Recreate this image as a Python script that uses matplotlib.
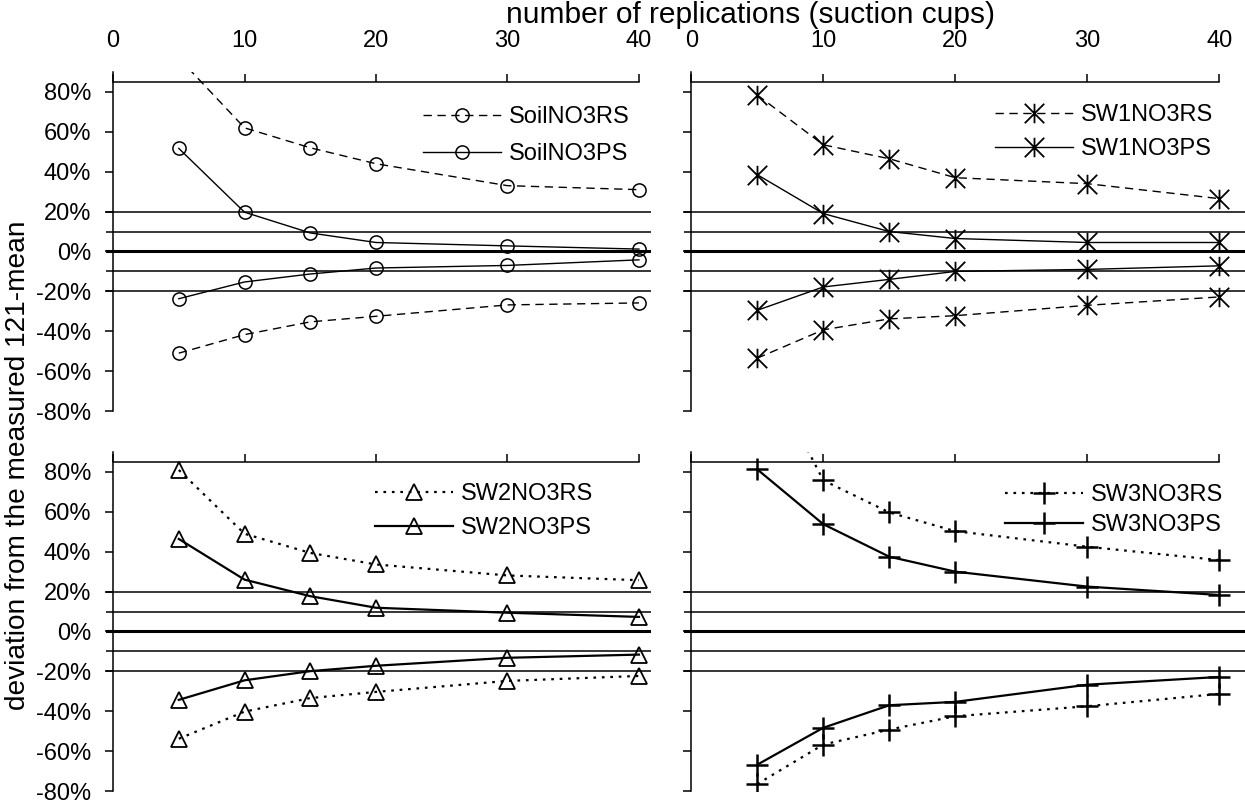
import matplotlib
matplotlib.use("Agg")
import matplotlib.pyplot as plt
from matplotlib.path import Path
from matplotlib.ticker import FuncFormatter

plt.rcParams['font.family'] = ['Liberation Sans', 'DejaVu Sans']

# number of suction cups in the replication
cups = [5, 10, 15, 20, 30, 40]

# deviation from the 121-mean (upper and lower bound of each series)
soil_rs_up = [0.97, 0.62, 0.52, 0.44, 0.33, 0.31]
soil_rs_lo = [-0.51, -0.417, -0.353, -0.325, -0.268, -0.258]
soil_ps_up = [0.517, 0.197, 0.093, 0.045, 0.028, 0.012]
soil_ps_lo = [-0.237, -0.153, -0.113, -0.083, -0.07, -0.042]

sw1_rs_up = [0.785, 0.535, 0.465, 0.37, 0.34, 0.265]
sw1_rs_lo = [-0.535, -0.393, -0.338, -0.322, -0.27, -0.228]
sw1_ps_up = [0.385, 0.19, 0.10, 0.065, 0.045, 0.045]
sw1_ps_lo = [-0.295, -0.178, -0.14, -0.10, -0.09, -0.072]

sw2_rs_up = [0.81, 0.49, 0.394, 0.336, 0.281, 0.257]
sw2_rs_lo = [-0.538, -0.402, -0.334, -0.303, -0.248, -0.223]
sw2_ps_up = [0.464, 0.26, 0.177, 0.119, 0.094, 0.073]
sw2_ps_lo = [-0.343, -0.245, -0.199, -0.172, -0.132, -0.116]

sw3_rs_up = [1.40, 0.758, 0.597, 0.503, 0.425, 0.358]
sw3_rs_lo = [-0.765, -0.567, -0.492, -0.425, -0.375, -0.313]
sw3_ps_up = [0.813, 0.538, 0.375, 0.30, 0.225, 0.183]
sw3_ps_lo = [-0.668, -0.483, -0.37, -0.353, -0.267, -0.228]

ref_levels = [-0.2, -0.1, 0.1, 0.2]

# asterisk = X plus a vertical bar
star = Path([(0, -1), (0, 1), (-1, -1), (1, 1), (-1, 1), (1, -1)],
            [Path.MOVETO, Path.LINETO] * 3)

fig = plt.figure(figsize=(12.45, 8.09), dpi=100)
W, H = 1245., 809.
ax_tl = fig.add_axes([105.8 / W, 1 - 411 / H, 545 / W, 339 / H])
ax_tr = fig.add_axes([684 / W, 1 - 411 / H, 561 / W, 339 / H])
ax_bl = fig.add_axes([105.8 / W, 1 - 791 / H, 545 / W, 339 / H])
ax_br = fig.add_axes([684 / W, 1 - 791 / H, 561 / W, 339 / H])

# axes, data, series name, marker, size, edge width, dash pattern, PS width, x max
panels = [
    (ax_tl, soil_rs_up, soil_rs_lo, soil_ps_up, soil_ps_lo, 'SoilNO3', 'o', 9.5, 1.1, (6, 4), 1.0, 40.9),
    (ax_tr, sw1_rs_up, sw1_rs_lo, sw1_ps_up, sw1_ps_lo, 'SW1NO3', star, 14, 1.3, (6, 4), 1.0, 41.95),
    (ax_bl, sw2_rs_up, sw2_rs_lo, sw2_ps_up, sw2_ps_lo, 'SW2NO3', '^', 11.5, 1.3, (1.2, 2.6), 1.6, 40.9),
    (ax_br, sw3_rs_up, sw3_rs_lo, sw3_ps_up, sw3_ps_lo, 'SW3NO3', '+', 16.5, 1.8, (1.2, 2.6), 1.6, 41.95),
]

# legend anchor (px): left end of the handle, top of first row, row spacing
leg_pos = [(423, 106, 0.65), (995, 104, 0.50), (375, 483, 0.50), (1005, 484, 0.35)]

for i, (ax, rs_up, rs_lo, ps_up, ps_lo, name, mk, ms, mew, dash, lw_ps, xmax) in enumerate(panels):
    ax.set_xlim(-0.55, xmax)
    ax.set_ylim(-0.8, 0.9)

    for lv in ref_levels:
        ax.axhline(lv, color='black', lw=1.1, zorder=1)
    ax.axhline(0, color='black', lw=2.2, zorder=1)

    mkw = dict(marker=mk, markersize=ms, markeredgewidth=mew,
               markerfacecolor='none', markeredgecolor='black', color='black')
    lw_rs = 1.0 if dash[0] > 2 else 1.6
    ax.plot(cups, rs_up, linestyle=(0, dash), lw=lw_rs, label=name + 'RS', zorder=3, **mkw)
    ax.plot(cups, rs_lo, linestyle=(0, dash), lw=lw_rs, zorder=3, **mkw)
    ax.plot(cups, ps_up, linestyle='-', lw=lw_ps, label=name + 'PS', zorder=3, **mkw)
    ax.plot(cups, ps_lo, linestyle='-', lw=lw_ps, zorder=3, **mkw)

    # category axis drawn at the top of the panel
    ax.spines['right'].set_visible(False)
    ax.spines['bottom'].set_visible(False)
    ax.spines['left'].set_position(('data', 0))
    ax.spines['top'].set_position(('data', 0.85))
    ax.spines['top'].set_bounds(0, 40)
    for s in ('left', 'top'):
        ax.spines[s].set_linewidth(1.1)

    ax.xaxis.set_ticks_position('top')
    ax.set_xticks([0, 10, 20, 30, 40])
    ax.tick_params(axis='x', direction='out', length=5.8, width=1.1,
                   labelsize=17, pad=16, labeltop=(i < 2), labelbottom=False)
    ax.set_yticks([-0.8, -0.6, -0.4, -0.2, 0, 0.2, 0.4, 0.6, 0.8])
    ax.yaxis.set_major_formatter(FuncFormatter(lambda v, p: '%d%%' % round(v * 100)))
    ax.tick_params(axis='y', direction='out', length=5.8, width=1.1,
                   labelsize=17, pad=10, labelleft=(i % 2 == 0))

    lx, ly, lsp = leg_pos[i]
    bb = ax.get_position()
    ax.legend(loc='upper left', frameon=False, fontsize=17,
              bbox_to_anchor=((lx / W - bb.x0) / bb.width,
                              ((1 - ly / H) - bb.y0) / bb.height),
              borderpad=0, borderaxespad=0, handlelength=3.3,
              handletextpad=0.35, labelspacing=lsp)

fig.text(751 / W, 1 - 15 / H, 'number of replications (suction cups)',
         ha='center', va='center', fontsize=21.5)
fig.text(18 / W, 1 - 465 / H, 'deviation from the measured 121-mean',
         ha='center', va='center', rotation=90, fontsize=20.2)

fig.savefig('out.png', dpi=100)
